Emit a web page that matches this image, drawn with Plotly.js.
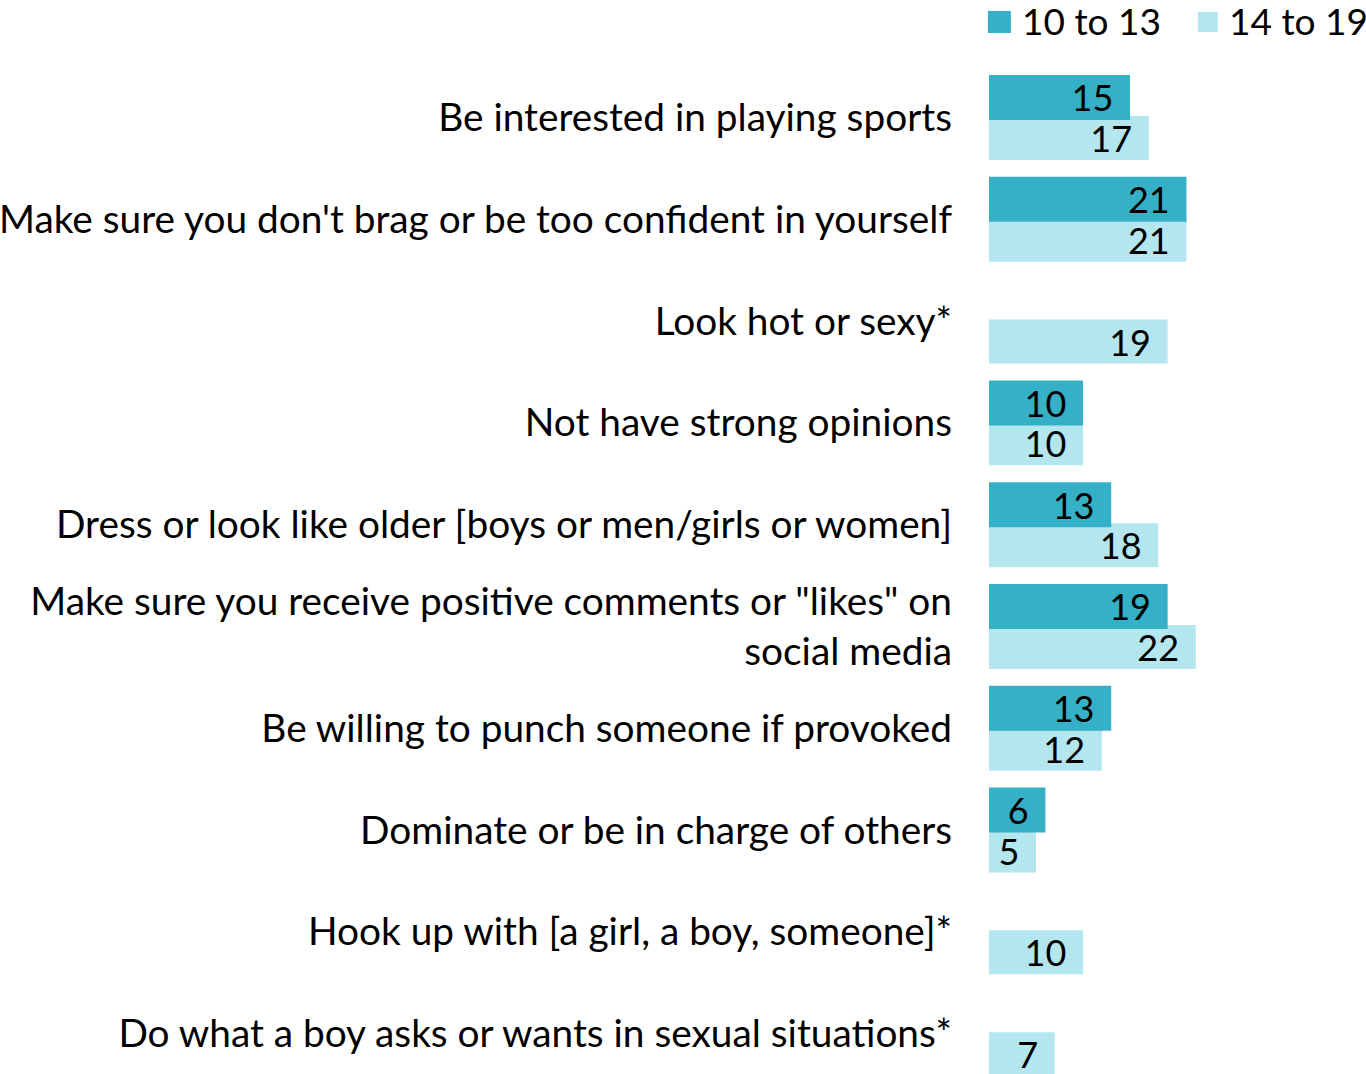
<!DOCTYPE html>
<html>
<head>
<meta charset="utf-8">
<script src="https://cdn.plot.ly/plotly-3.0.1.min.js"></script>
<style>
  html, body { margin: 0; padding: 0; background: #ffffff; }
  #chart { width: 1366px; height: 1074px; }
</style>
</head>
<body>
<div id="chart"></div>
<script>
// Pressures felt by age group (percent)
const statements = [
  "Be interested in playing sports",
  "Make sure you don't brag or be too confident in yourself",
  "Look hot or sexy*",
  "Not have strong opinions",
  "Dress or look like older [boys or men/girls or women]",
  "Make sure you receive positive comments or \"likes\" on<br>social media",
  "Be willing to punch someone if provoked",
  "Dominate or be in charge of others",
  "Hook up with [a girl, a boy, someone]*",
  "Do what a boy asks or wants in sexual situations*"
];
const seriesNames = ["10 to 13", "14 to 19"];
const ages10to13 = [15, 21, null, 10, 13, 19, 13, 6, null, null];
const ages14to19 = [17, 21, 19, 10, 18, 22, 12, 5, 10, 7];

const darkColor = "rgb(53,176,198)";
const lightColor = "rgb(179,230,239)";
const fontFamily = "Lato, 'Noto Sans', sans-serif";
const idx = statements.map((_, i) => i);
const pad = "\u00a0\u2009";

const common = {
  type: "bar",
  orientation: "h",
  y: idx,
  textposition: "inside",
  insidetextanchor: "end",
  constraintext: "none",
  textangle: 0,
  texttemplate: "%{x}" + pad,
  textfont: { family: fontFamily, size: 36, color: "#000000" },
  hoverinfo: "skip",
  showlegend: false
};

// older group drawn first so the younger group's bar sits on top
const traces = [
  Object.assign({}, common, {
    name: seriesNames[1],
    x: ages14to19,
    offset: -0.015,
    width: 0.432,
    marker: { color: lightColor }
  }),
  Object.assign({}, common, {
    name: seriesNames[0],
    x: ages10to13,
    offset: -0.4175,
    width: 0.442,
    marker: { color: darkColor }
  })
];

// legend: swatches and names across the top
const swatches = [
  { x0: -0.003, x1: 0.058, y0: 0.9693, y1: 0.9898, color: darkColor },
  { x0: 0.554, x1: 0.607, y0: 0.9702, y1: 0.9888, color: lightColor }
];
const legendTextX = [0.082, 0.631];

const layout = {
  width: 1366,
  height: 1074,
  margin: { l: 989, r: 0, t: 0, b: 0 },
  paper_bgcolor: "#ffffff",
  plot_bgcolor: "#ffffff",
  barmode: "overlay",
  font: { family: fontFamily, color: "#000000" },
  xaxis: {
    range: [0, 40.1],
    visible: false,
    fixedrange: true
  },
  yaxis: {
    range: [9.396, -1.154],
    tickmode: "array",
    tickvals: idx,
    ticktext: statements,
    ticks: "",
    ticklabelstandoff: 36,
    showgrid: false,
    zeroline: false,
    showline: false,
    automargin: false,
    tickfont: { family: fontFamily, size: 38.8, color: "#000000" },
    fixedrange: true
  },
  shapes: swatches.map(s => ({
    type: "rect", xref: "paper", yref: "paper",
    x0: s.x0, x1: s.x1, y0: s.y0, y1: s.y1,
    fillcolor: s.color, line: { width: 0 }
  })),
  annotations: seriesNames.map((n, i) => ({
    xref: "paper", yref: "paper",
    x: legendTextX[i], y: 0.9805,
    xanchor: "left", yanchor: "middle",
    text: n, showarrow: false,
    font: { family: fontFamily, size: 37, color: "#000000" }
  }))
};

Plotly.newPlot("chart", traces, layout, { displayModeBar: false, staticPlot: true });
</script>
</body>
</html>
